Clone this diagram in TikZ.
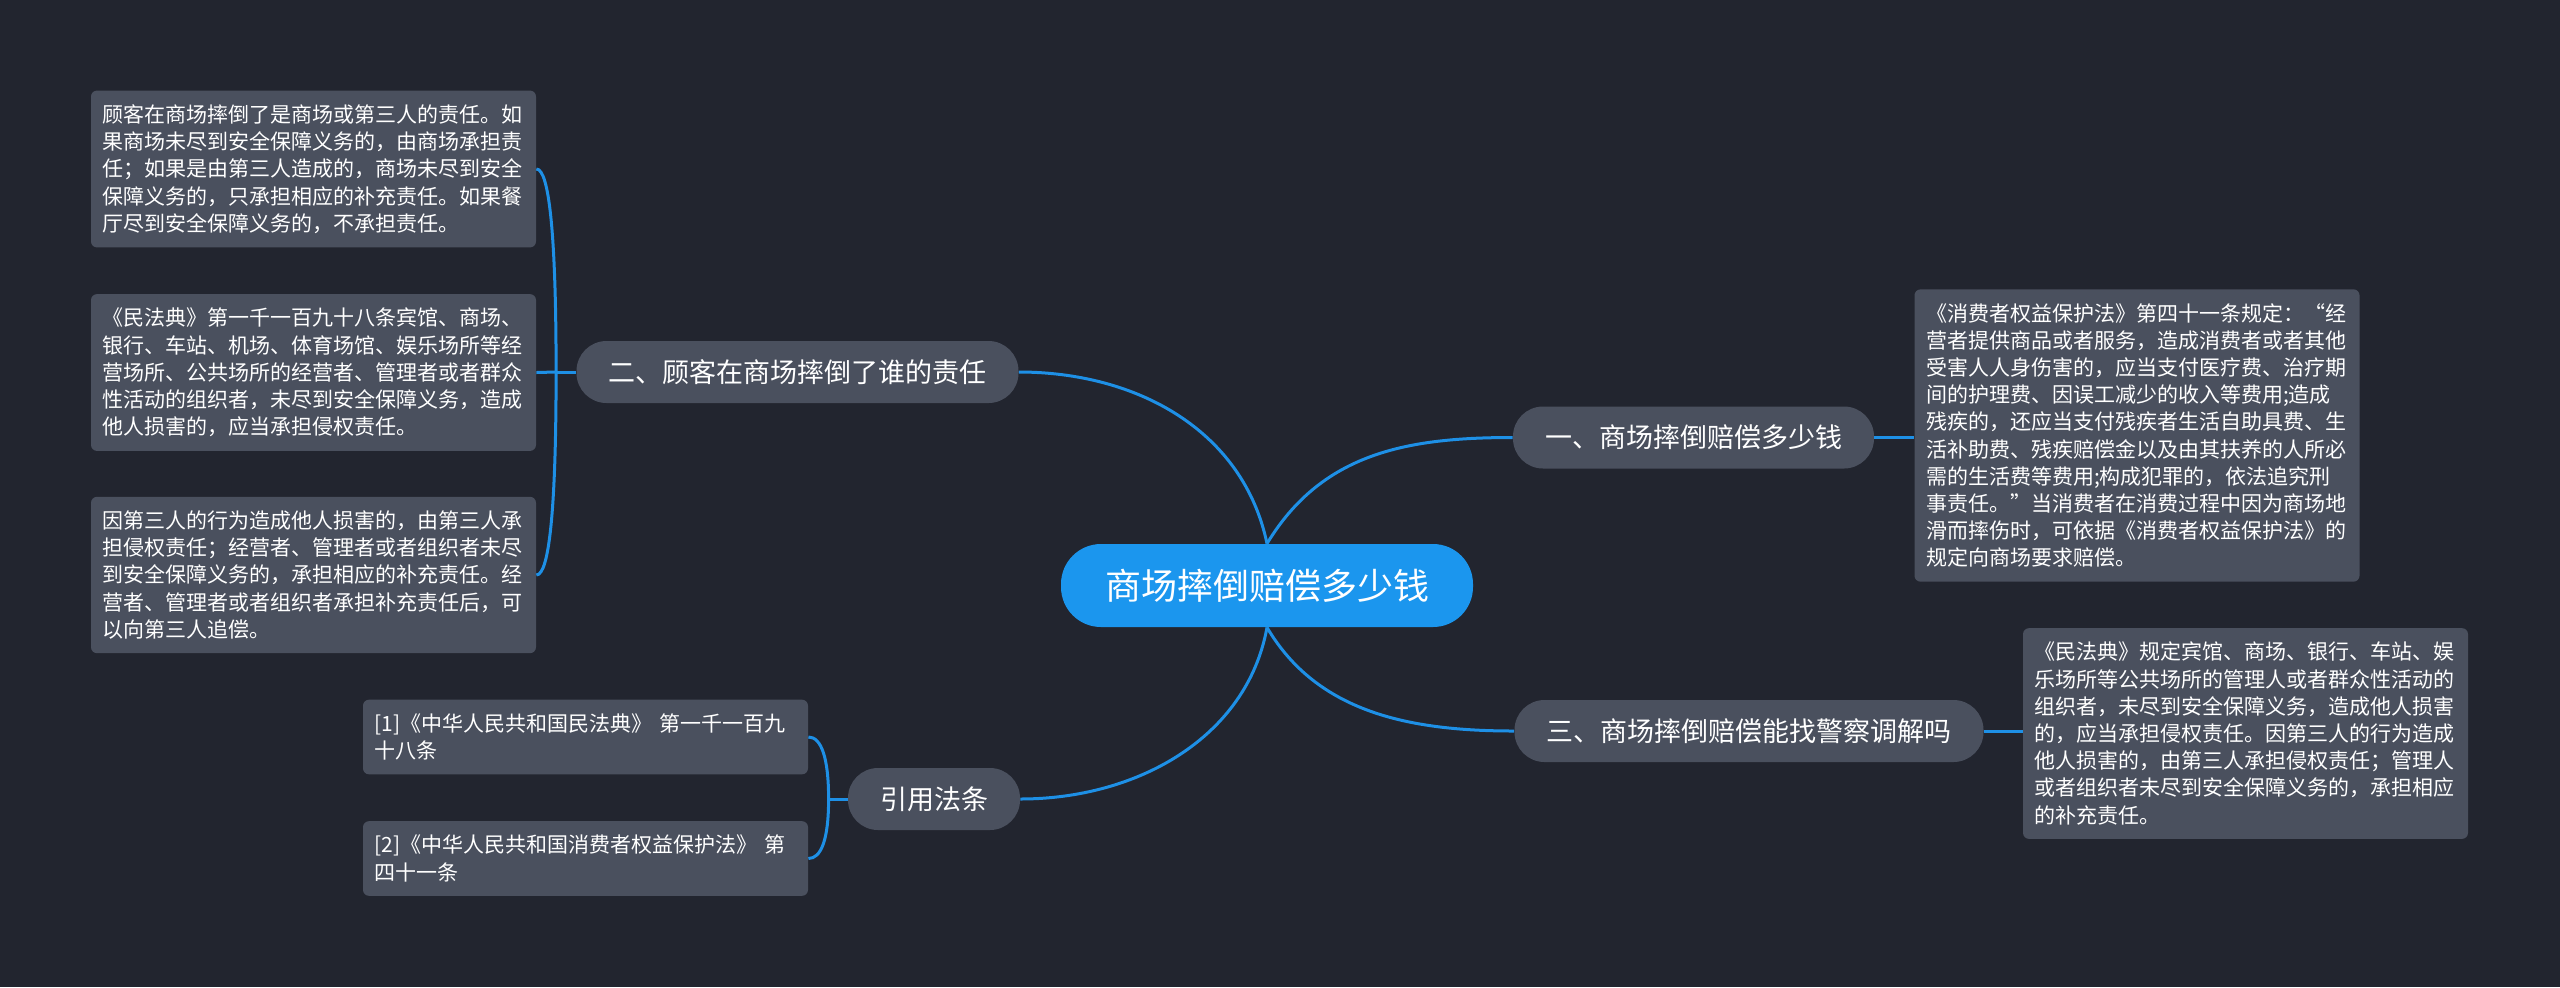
\documentclass[tikz,border=0pt]{standalone}
\usepackage{fontspec}
\usepackage{tikz}
\usetikzlibrary{calc}
\newfontfamily\cjk{Noto Sans CJK SC}
\definecolor{MapBg}{HTML}{22252F}
\definecolor{MapBox}{HTML}{4A505E}
\definecolor{MapBlue}{HTML}{1B96EE}
\definecolor{MapLine}{HTML}{1E90E6}

\begin{document}
\begin{tikzpicture}[
    x=0.5pt, y=-0.5pt,
    hub/.style={
      fill=MapBlue,
      text=white,
      font=\cjk\fontsize{18}{22}\selectfont,
      inner xsep=22pt,
      minimum height=41.5pt,
      rounded corners=20pt
    },
    topic/.style={
      fill=MapBox,
      text=white,
      font=\cjk\fontsize{13.5}{16}\selectfont,
      inner xsep=16pt,
      minimum height=31pt,
      rounded corners=15pt
    },
    leaf/.style={
      fill=MapBox,
      text=white,
      font=\cjk\fontsize{10.5}{13.6}\selectfont,
      text width=211pt,
      align=left,
      inner xsep=5.75pt,
      inner ysep=7pt,
      rounded corners=3pt
    },
    link/.style={
      draw=MapLine,
      line width=1.5pt
    }
  ]

  % Canvas
  \fill[MapBg] (0,0) rectangle (2560,987);

  % Hub
  \node[hub] (hub) at (1267,585.5) {商场摔倒赔偿多少钱};

  % Topics
  \node[topic] (b1) at (1693.5,437.5) {一、商场摔倒赔偿多少钱};
  \node[topic] (b2) at (797.5,372) {二、顾客在商场摔倒了谁的责任};
  \node[topic] (b3) at (1749,731) {三、商场摔倒赔偿能找警察调解吗};
  \node[topic] (b4) at (934,799) {引用法条};

  % Left leaves
  \node[leaf] (l1) at (313.5,169)
    {顾客在商场摔倒了是商场或第三人的责任。如\\果商场未尽到安全保障义务的，由商场承担责\\任；如果是由第三人造成的，商场未尽到安全\\保障义务的，只承担相应的补充责任。如果餐\\厅尽到安全保障义务的，不承担责任。};
  \node[leaf] (l2) at (313.5,372.5)
    {《民法典》第一千一百九十八条宾馆、商场、\\银行、车站、机场、体育场馆、娱乐场所等经\\营场所、公共场所的经营者、管理者或者群众\\性活动的组织者，未尽到安全保障义务，造成\\他人损害的，应当承担侵权责任。};
  \node[leaf] (l3) at (313.5,575)
    {因第三人的行为造成他人损害的，由第三人承\\担侵权责任；经营者、管理者或者组织者未尽\\到安全保障义务的，承担相应的补充责任。经\\营者、管理者或者组织者承担补充责任后，可\\以向第三人追偿。};

  % Right leaves
  \node[leaf] (r1) at (2137,435.5)
    {《消费者权益保护法》第四十一条规定：“经\\营者提供商品或者服务，造成消费者或者其他\\受害人人身伤害的，应当支付医疗费、治疗期\\间的护理费、因误工减少的收入等费用;造成\\残疾的，还应当支付残疾者生活自助具费、生\\活补助费、残疾赔偿金以及由其扶养的人所必\\需的生活费等费用;构成犯罪的，依法追究刑\\事责任。”当消费者在消费过程中因为商场地\\滑而摔伤时，可依据《消费者权益保护法》的\\规定向商场要求赔偿。};
  \node[leaf] (r3) at (2245.5,733.5)
    {《民法典》规定宾馆、商场、银行、车站、娱\\乐场所等公共场所的管理人或者群众性活动的\\组织者，未尽到安全保障义务，造成他人损害\\的，应当承担侵权责任。因第三人的行为造成\\他人损害的，由第三人承担侵权责任；管理人\\或者组织者未尽到安全保障义务的，承担相应\\的补充责任。};

  % Citations
  \node[leaf] (c1) at (585.5,737)
    {[1]《中华人民共和国民法典》 第一千一百九\\十八条};
  \node[leaf] (c2) at (585.5,858.5)
    {[2]《中华人民共和国消费者权益保护法》 第\\四十一条};

  % Hub to topics
  \draw[link] (hub.north) .. controls +(55,-91) and +(-105,0) .. (b1.west);
  \draw[link] (hub.north) .. controls +(-24,-114) and +(117,0) .. (b2.east);
  \draw[link] (hub.south) .. controls +(50,85) and +(-105,0) .. (b3.west);
  \draw[link] (hub.south) .. controls +(-20,110) and +(117,0) .. (b4.east);

  % Topics to leaves
  \draw[link] (b1.east) -- (b1.east -| r1.west);
  \draw[link] (b3.east) -- (b3.east -| r3.west);

  \draw[link] (b2.west) -- ++(-20,0) coordinate (j2);
  \draw[link] (j2) .. controls +(0,-135) and +(13,0) .. (l1.east);
  \draw[link] (j2) -- (l2.east);
  \draw[link] (j2) .. controls +(0,135) and +(13,0) .. (l3.east);

  \draw[link] (b4.west) -- ++(-19,0) coordinate (j4);
  \draw[link] (j4) .. controls +(0,-41) and +(13,0) .. (c1.east);
  \draw[link] (j4) .. controls +(0,40) and +(13,0) .. (c2.east);
\end{tikzpicture}
\end{document}
